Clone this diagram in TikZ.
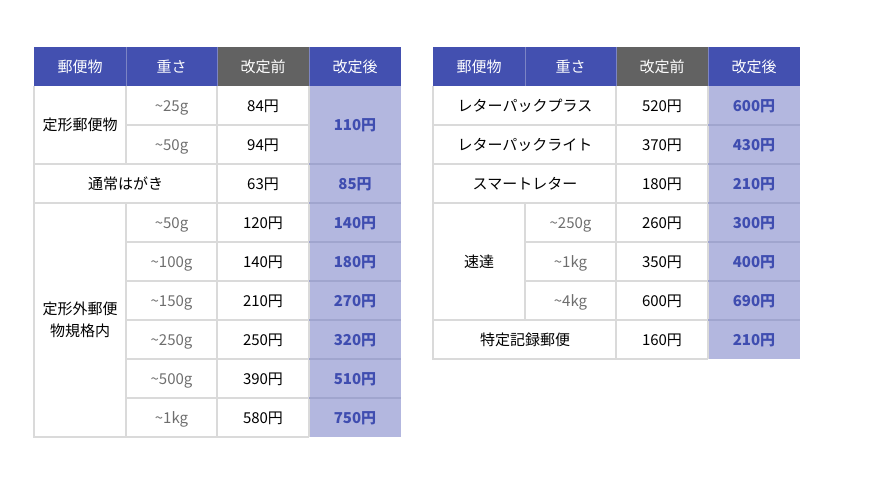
\documentclass[tikz,border=0pt]{standalone}
\usepackage{fontspec}
\setmainfont{Noto Sans CJK JP}
\definecolor{hdblue}{HTML}{4350B0}
\definecolor{hdgray}{HTML}{626262}
\definecolor{hdline}{HTML}{7C84C4}
\definecolor{newfill}{HTML}{B3B7DF}
\definecolor{newtext}{HTML}{3F4DB0}
\definecolor{newline}{HTML}{A0A5CE}
\definecolor{wtgray}{HTML}{6E6E6E}
\definecolor{gridline}{HTML}{DADADA}
\newcommand\cellfont{\fontsize{15}{22}\selectfont}
\tikzset{
	hd/.style={text=white},
	wt/.style={text=wtgray},
	pr/.style={text=black},
	nw/.style={text=newtext, font=\cellfont\bfseries},
	grid/.style={line width=1.2pt, color=gridline},
	gridnew/.style={line width=1.2pt, color=newline},
	gridhd/.style={line width=1pt, color=hdline},
}

\begin{document}
\begin{tikzpicture}[x=1pt, y=-1pt, every node/.style={inner sep=0pt, font=\cellfont, text height=11pt, text depth=0pt}]
			%%%%% START %%%%%
			\useasboundingbox (0, 0) rectangle (880, 495);
			
			%%%%% LEFT TABLE %%%%%
			\fill[hdblue] (34, 47) rectangle (217, 86);
			\fill[hdgray] (217, 47) rectangle (309, 86);
			\fill[hdblue] (309, 47) rectangle (401, 86);
			\fill[newfill] (309, 86) rectangle (401, 437);
			
			\draw[gridhd] (126, 47) -- (126, 86);
			\draw[gridhd] (217, 47) -- (217, 86);
			\draw[gridhd] (309, 47) -- (309, 86);
			
			\draw[grid] (34, 86) -- (34, 437) -- (309, 437);
			\draw[grid] (126, 86) -- (126, 164);
			\draw[grid] (126, 203) -- (126, 437);
			\draw[grid] (217, 86) -- (217, 437);
			\draw[grid] (309, 86) -- (309, 437);
			
			\draw[grid] (126, 125) -- (309, 125);
			\draw[grid] (34, 164) -- (309, 164);
			\draw[gridnew] (309, 164) -- (401, 164);
			\draw[grid] (34, 203) -- (309, 203);
			\draw[gridnew] (309, 203) -- (401, 203);
			\draw[grid] (126, 242) -- (309, 242);
			\draw[gridnew] (309, 242) -- (401, 242);
			\draw[grid] (126, 281) -- (309, 281);
			\draw[gridnew] (309, 281) -- (401, 281);
			\draw[grid] (126, 320) -- (309, 320);
			\draw[gridnew] (309, 320) -- (401, 320);
			\draw[grid] (126, 359) -- (309, 359);
			\draw[gridnew] (309, 359) -- (401, 359);
			\draw[grid] (126, 398) -- (309, 398);
			\draw[gridnew] (309, 398) -- (401, 398);
			
			\node[hd] (l-kind) at (80, 66.5) {郵便物};
			\node[hd] (l-weight) at (171.5, 66.5) {重さ};
			\node[hd] (l-old) at (263, 66.5) {改定前};
			\node[hd] (l-new) at (355, 66.5) {改定後};
			
			\node[pr] (teikei) at (80, 125) {定形郵便物};
			\node[wt] (teikei-w1) at (171.5, 105.5) {\textasciitilde25g};
			\node[pr] (teikei-o1) at (263, 105.5) {84円};
			\node[wt] (teikei-w2) at (171.5, 144.5) {\textasciitilde50g};
			\node[pr] (teikei-o2) at (263, 144.5) {94円};
			\node[nw] (teikei-n) at (355, 125) {110円};
			
			\node[pr] (hagaki) at (125.5, 183.5) {通常はがき};
			\node[pr] (hagaki-o) at (263, 183.5) {63円};
			\node[nw] (hagaki-n) at (355, 183.5) {85円};
			
			\node[pr, align=center, text height={}, text depth={}] (teikeigai) at (80, 320) {定形外郵便\\物規格内};
			\node[wt] (gai-w1) at (171.5, 222.5) {\textasciitilde50g};
			\node[pr] (gai-o1) at (263, 222.5) {120円};
			\node[nw] (gai-n1) at (355, 222.5) {140円};
			\node[wt] (gai-w2) at (171.5, 261.5) {\textasciitilde100g};
			\node[pr] (gai-o2) at (263, 261.5) {140円};
			\node[nw] (gai-n2) at (355, 261.5) {180円};
			\node[wt] (gai-w3) at (171.5, 300.5) {\textasciitilde150g};
			\node[pr] (gai-o3) at (263, 300.5) {210円};
			\node[nw] (gai-n3) at (355, 300.5) {270円};
			\node[wt] (gai-w4) at (171.5, 339.5) {\textasciitilde250g};
			\node[pr] (gai-o4) at (263, 339.5) {250円};
			\node[nw] (gai-n4) at (355, 339.5) {320円};
			\node[wt] (gai-w5) at (171.5, 378.5) {\textasciitilde500g};
			\node[pr] (gai-o5) at (263, 378.5) {390円};
			\node[nw] (gai-n5) at (355, 378.5) {510円};
			\node[wt] (gai-w6) at (171.5, 417.5) {\textasciitilde1kg};
			\node[pr] (gai-o6) at (263, 417.5) {580円};
			\node[nw] (gai-n6) at (355, 417.5) {750円};
			
			%%%%% RIGHT TABLE %%%%%
			\fill[hdblue] (433, 47) rectangle (616, 86);
			\fill[hdgray] (616, 47) rectangle (708, 86);
			\fill[hdblue] (708, 47) rectangle (800, 86);
			\fill[newfill] (708, 86) rectangle (800, 359);
			
			\draw[gridhd] (525, 47) -- (525, 86);
			\draw[gridhd] (616, 47) -- (616, 86);
			\draw[gridhd] (708, 47) -- (708, 86);
			
			\draw[grid] (433, 86) -- (433, 359) -- (708, 359);
			\draw[grid] (525, 203) -- (525, 320);
			\draw[grid] (616, 86) -- (616, 359);
			\draw[grid] (708, 86) -- (708, 359);
			
			\draw[grid] (433, 125) -- (708, 125);
			\draw[gridnew] (708, 125) -- (800, 125);
			\draw[grid] (433, 164) -- (708, 164);
			\draw[gridnew] (708, 164) -- (800, 164);
			\draw[grid] (433, 203) -- (708, 203);
			\draw[gridnew] (708, 203) -- (800, 203);
			\draw[grid] (525, 242) -- (708, 242);
			\draw[gridnew] (708, 242) -- (800, 242);
			\draw[grid] (525, 281) -- (708, 281);
			\draw[gridnew] (708, 281) -- (800, 281);
			\draw[grid] (433, 320) -- (708, 320);
			\draw[gridnew] (708, 320) -- (800, 320);
			
			\node[hd] (r-kind) at (479, 66.5) {郵便物};
			\node[hd] (r-weight) at (570.5, 66.5) {重さ};
			\node[hd] (r-old) at (662, 66.5) {改定前};
			\node[hd] (r-new) at (754, 66.5) {改定後};
			
			\node[pr] (plus) at (525, 105.5) {レターパックプラス};
			\node[pr] (plus-o) at (662, 105.5) {520円};
			\node[nw] (plus-n) at (754, 105.5) {600円};
			\node[pr] (light) at (525, 144.5) {レターパックライト};
			\node[pr] (light-o) at (662, 144.5) {370円};
			\node[nw] (light-n) at (754, 144.5) {430円};
			\node[pr] (smart) at (525, 183.5) {スマートレター};
			\node[pr] (smart-o) at (662, 183.5) {180円};
			\node[nw] (smart-n) at (754, 183.5) {210円};
			
			\node[pr] (sokutatsu) at (479, 261.5) {速達};
			\node[wt] (soku-w1) at (570.5, 222.5) {\textasciitilde250g};
			\node[pr] (soku-o1) at (662, 222.5) {260円};
			\node[nw] (soku-n1) at (754, 222.5) {300円};
			\node[wt] (soku-w2) at (570.5, 261.5) {\textasciitilde1kg};
			\node[pr] (soku-o2) at (662, 261.5) {350円};
			\node[nw] (soku-n2) at (754, 261.5) {400円};
			\node[wt] (soku-w3) at (570.5, 300.5) {\textasciitilde4kg};
			\node[pr] (soku-o3) at (662, 300.5) {600円};
			\node[nw] (soku-n3) at (754, 300.5) {690円};
			
			\node[pr] (tokutei) at (525, 339.5) {特定記録郵便};
			\node[pr] (tokutei-o) at (662, 339.5) {160円};
			\node[nw] (tokutei-n) at (754, 339.5) {210円};
			
			%%%%% END %%%%%
\end{tikzpicture}
\end{document}
